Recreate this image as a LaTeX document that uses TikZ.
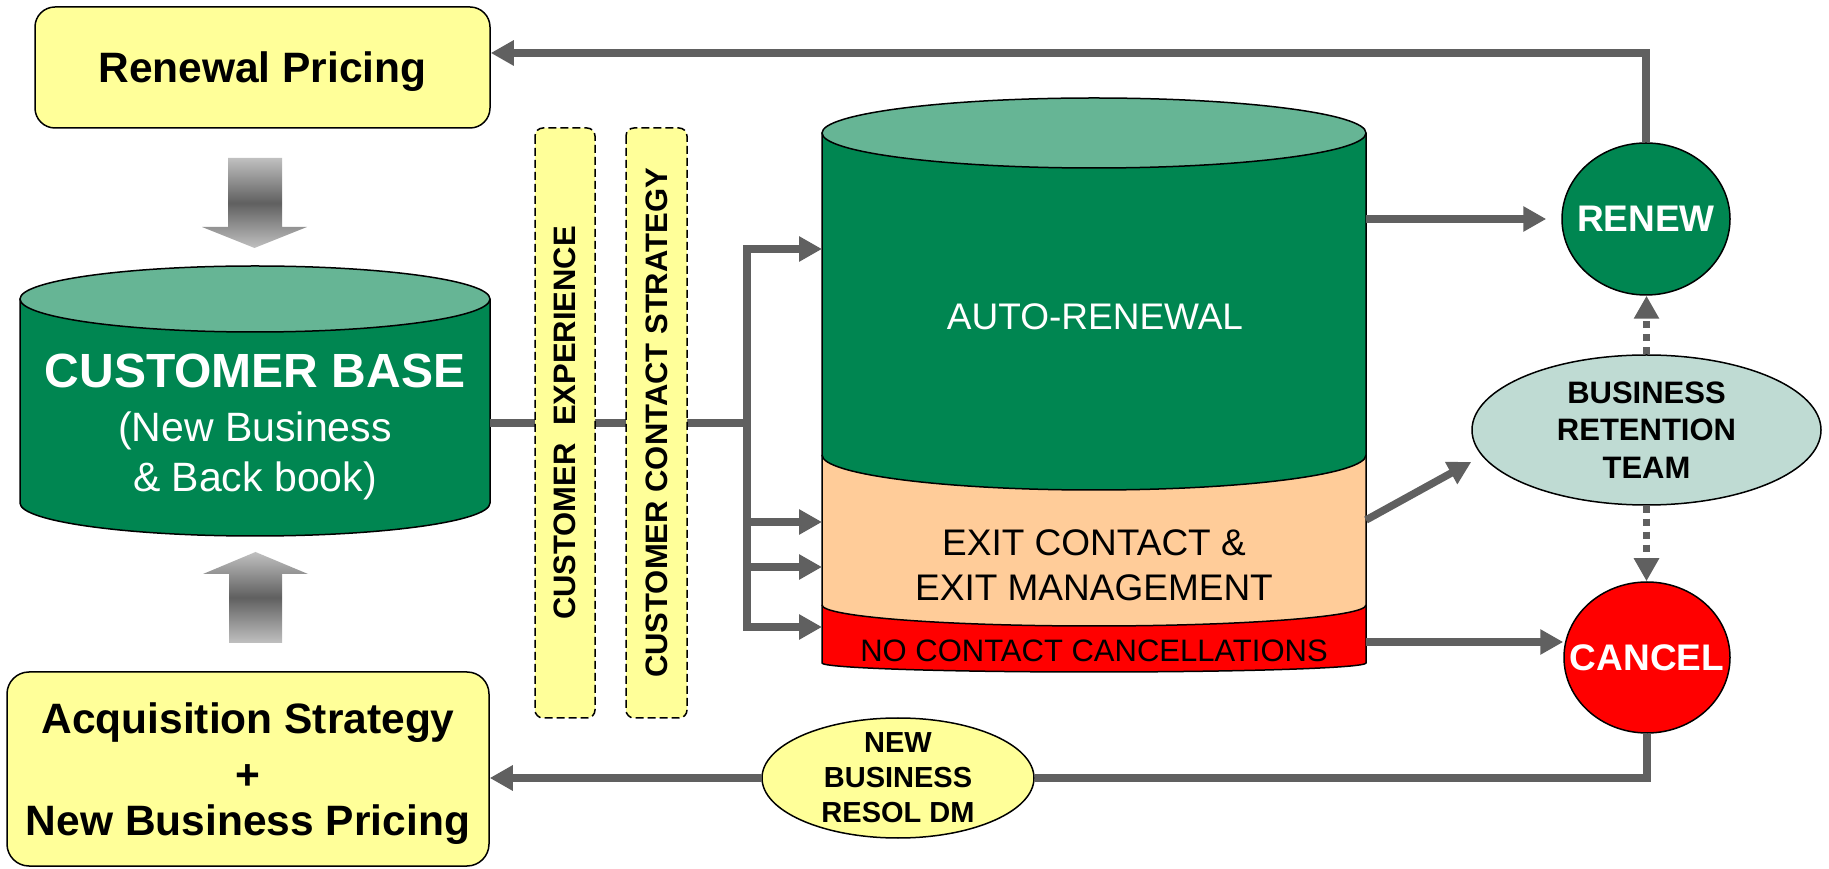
\documentclass[tikz,border=0pt]{standalone}
\usepackage{fontspec}
\setmainfont{Liberation Sans}
\usepackage{tikz}
\usetikzlibrary{arrows.meta, positioning, calc, shapes}
\usepackage{xcolor}
\definecolor{basegreen}{RGB}{0,134,81}
\definecolor{topgreen}{RGB}{102,181,149}
\definecolor{paleyellow}{RGB}{255,255,153}
\definecolor{peach}{RGB}{255,204,153}
\definecolor{alarmred}{RGB}{255,0,0}
\definecolor{flowgray}{RGB}{96,96,96}
\definecolor{paleteal}{RGB}{191,219,211}
\definecolor{shadelight}{RGB}{192,192,192}

\tikzset{
  outline/.style={draw=black, line width=1.5pt},
  yellowbox/.style={outline, fill=paleyellow, rounded corners=20pt, text depth=0pt, align=center, font=\fontsize{42.5}{46}\selectfont\bfseries},
  stripbox/.style={draw=black, line width=1.5pt, dash pattern=on 8pt off 4pt, fill=paleyellow, rounded corners=8pt, rotate=90, minimum height=60, minimum width=590, font=\fontsize{31}{36}\selectfont\bfseries},
  oval/.style={outline, ellipse, inner sep=0pt},
  gline/.style={draw=flowgray, line width=7.5pt},
  flow/.style={gline, -{Triangle[length=23pt,width=24pt]}},
  dotflow/.style={flow, dash pattern=on 7pt off 6pt},
  blockarrow/.style={top color=shadelight, bottom color=shadelight, middle color=flowgray},
}

\begin{document}
\begin{tikzpicture}[x=1pt, y=1pt]
  \useasboundingbox (0,0) rectangle (1829,868);
  % Pricing boxes
  \node[yellowbox, minimum width=455, minimum height=121] (renewal) at (262.5,800.5) {Renewal Pricing};
  \node[yellowbox, minimum width=482, minimum height=194, rounded corners=22pt] (acquisition) at (248,99) {Acquisition Strategy\\[10pt]+\\New Business Pricing};
  % Block arrows into the customer base
  \shade[blockarrow] (228,710) -- (282,710) -- (282,641) -- (307,641) -- (254.5,620) -- (202,641) -- (228,641) -- cycle;
  \shade[blockarrow] (229,225) -- (282,225) -- (282,294) -- (308,294) -- (255.5,316) -- (203,294) -- (229,294) -- cycle;
  % Customer base
  \filldraw[outline, fill=basegreen] (20,569) -- (20,365) arc[start angle=180, end angle=360, x radius=235, y radius=33] -- (490,569);
  \filldraw[outline, fill=topgreen] (255,569) ellipse [x radius=235, y radius=33];
  \node[white, align=center, font=\fontsize{41}{50}\selectfont] (base) at (255,441) {{\fontsize{48}{50}\selectfont\bfseries CUSTOMER BASE}\\[4pt](New Business\\\& Back book)};
  % Contact strategies
  \coordinate (baseout) at (490,445);
  \coordinate (fork) at (747,445);
  \draw[gline] (baseout) -- (fork);
  \node[stripbox] (experience) at (565,445) {CUSTOMER\ \ EXPERIENCE};
  \node[stripbox, minimum height=61] (contact) at (656.5,445) {CUSTOMER CONTACT STRATEGY};
  % Renewal cylinder
  \filldraw[outline, fill=alarmred] (822,263) -- (822,205) arc[start angle=180, end angle=360, x radius=272, y radius=9] -- (1366,263);
  \filldraw[outline, fill=peach] (822,413) -- (822,263) arc[start angle=180, end angle=360, x radius=272, y radius=21] -- (1366,413);
  \filldraw[outline, fill=basegreen] (822,735) -- (822,413) arc[start angle=180, end angle=360, x radius=272, y radius=35] -- (1366,735);
  \filldraw[outline, fill=topgreen] (1094,735) ellipse [x radius=272, y radius=35];
  \node[white, font=\fontsize{37}{44}\selectfont] (autoren) at (1095,551) {AUTO-RENEWAL};
  \node[align=center, font=\fontsize{37}{45}\selectfont] (exitmgmt) at (1094,302.5) {EXIT CONTACT \&\\EXIT MANAGEMENT};
  \node[font=\fontsize{31}{36}\selectfont] (nocontact) at (1094,217) {NO CONTACT CANCELLATIONS};
  % Branches into the cylinder
  \coordinate (in1) at (822,619);
  \coordinate (in2) at (822,346);
  \coordinate (in3) at (822,301);
  \coordinate (in4) at (822,241);
  \draw[gline, line cap=rect] (fork |- in1) -- (fork |- in4);
  \foreach \t in {in1,in2,in3,in4}
    \draw[flow] (fork |- \t) -- (\t);
  % Outcomes
  \node[oval, fill=basegreen, minimum width=168, minimum height=152] (renew) at (1646,649) {};
  \node[white, font=\fontsize{37}{44}\selectfont\bfseries] (renewtxt) at (renew) {RENEW};
  \node[oval, fill=paleteal, minimum width=349, minimum height=150] (retention) at (1646.5,438) {};
  \node[align=center, font=\fontsize{31}{37.5}\selectfont\bfseries] (retentiontxt) at (retention) {BUSINESS\\RETENTION\\TEAM};
  \node[oval, fill=alarmred, minimum width=166, minimum height=151] (cancel) at (1647,210.5) {};
  \node[white, font=\fontsize{37}{44}\selectfont\bfseries] (canceltxt) at (cancel) {CANCEL};
  \node[oval, fill=paleyellow, minimum width=272, minimum height=120] (newbiz) at (898,90) {};
  \node[align=center, font=\fontsize{29}{35}\selectfont\bfseries] (newbiztxt) at (newbiz) {NEW\\BUSINESS\\RESOL DM};
  % Flows out of the cylinder
  \coordinate (renewout) at (1366,649);
  \coordinate (exitout) at (1366,348);
  \coordinate (cancelout) at (1366,226);
  \draw[flow, shorten >=15pt] (renewout) -- (renewout -| renew.west);
  \draw[flow] (exitout) -- ($(retention.west)+(0,-32)$);
  \draw[flow] (cancelout) -- (cancelout -| cancel.west);
  \draw[dotflow] (retention.north) -- (retention.north |- renew.south);
  \draw[dotflow] (retention.south) -- (retention.south |- cancel.north);
  % Feedback loops
  \draw[flow] (renew.north) |- ($(renewal.east)+(0,14.5)$);
  \draw[gline] (cancel.south) |- (newbiz.east);
  \draw[flow] (newbiz.west) -- (newbiz.west -| acquisition.east);
\end{tikzpicture}
\end{document}
